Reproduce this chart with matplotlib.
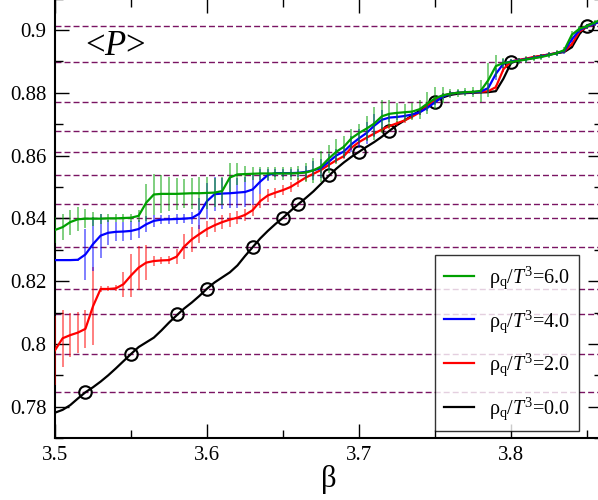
"""
plot.py
Polyakov loop <P> vs beta for several quark number densities
"""
import numpy as np
import matplotlib
matplotlib.use('Agg')
import matplotlib.pyplot as plt
from matplotlib.ticker import MultipleLocator, FuncFormatter

# Fonts - serif, Times-like, as in xmgrace output
plt.rcParams['font.family'] = ['Liberation Serif', 'DejaVu Serif']
plt.rcParams['mathtext.fontset'] = 'custom'
plt.rcParams['mathtext.rm'] = 'Liberation Serif'
plt.rcParams['mathtext.it'] = 'Liberation Serif:italic'

# ---------------------------------------------------------------- data
beta = [3.500, 3.505, 3.510, 3.515, 3.520, 3.525, 3.530, 3.535, 3.540, 3.545,
        3.550, 3.555, 3.560, 3.565, 3.570, 3.575, 3.580, 3.585, 3.590, 3.595,
        3.600, 3.605, 3.610, 3.615, 3.620, 3.625, 3.630, 3.635, 3.640, 3.645,
        3.650, 3.655, 3.660, 3.665, 3.670, 3.675, 3.680, 3.685, 3.690, 3.695,
        3.700, 3.705, 3.710, 3.715, 3.720, 3.725, 3.730, 3.735, 3.740, 3.745,
        3.750, 3.755, 3.760, 3.765, 3.770, 3.775, 3.780, 3.785, 3.790, 3.795,
        3.800, 3.805, 3.810, 3.815, 3.820, 3.825, 3.830, 3.835, 3.840, 3.845,
        3.850, 3.855, 3.860]

# rho_q/T^3 = 6.0
p_rho6 = [0.8363, 0.8372, 0.8388, 0.8397, 0.8399, 0.8399, 0.8399, 0.8400, 0.8400, 0.8401,
          0.8402, 0.8408, 0.8450, 0.8476, 0.8478, 0.8478, 0.8478, 0.8479, 0.8480, 0.8480,
          0.8481, 0.8482, 0.8487, 0.8530, 0.8540, 0.8541, 0.8542, 0.8543, 0.8543, 0.8543,
          0.8543, 0.8543, 0.8544, 0.8546, 0.8553, 0.8565, 0.8590, 0.8612, 0.8628, 0.8655,
          0.8672, 0.8686, 0.8702, 0.8725, 0.8733, 0.8736, 0.8738, 0.8740, 0.8748, 0.8766,
          0.8782, 0.8792, 0.8797, 0.8800, 0.8802, 0.8803, 0.8806, 0.8840, 0.8885, 0.8895,
          0.8898, 0.8902, 0.8906, 0.8910, 0.8914, 0.8920, 0.8926, 0.8936, 0.8985, 0.9004,
          0.9012, 0.9024, 0.9035]
e_rho6 = [0.0042, 0.0042, 0.0040, 0.0038, 0.0030, 0.0022, 0.0016, 0.0013, 0.0013, 0.0013,
          0.0013, 0.0020, 0.0060, 0.0064, 0.0060, 0.0055, 0.0050, 0.0045, 0.0050, 0.0052,
          0.0050, 0.0045, 0.0045, 0.0045, 0.0035, 0.0025, 0.0020, 0.0020, 0.0020, 0.0020,
          0.0020, 0.0020, 0.0022, 0.0030, 0.0040, 0.0048, 0.0045, 0.0040, 0.0035, 0.0030,
          0.0030, 0.0040, 0.0052, 0.0053, 0.0045, 0.0030, 0.0027, 0.0027, 0.0030, 0.0035,
          0.0035, 0.0025, 0.0015, 0.0012, 0.0012, 0.0015, 0.0035, 0.0055, 0.0035, 0.0015,
          0.0010, 0.0010, 0.0010, 0.0010, 0.0010, 0.0010, 0.0010, 0.0010, 0.0012, 0.0010,
          0.0008, 0.0008, 0.0008]

# rho_q/T^3 = 4.0
p_rho4 = [0.8267, 0.8267, 0.8267, 0.8268, 0.8285, 0.8318, 0.8345, 0.8354, 0.8357, 0.8358,
          0.8360, 0.8366, 0.8381, 0.8392, 0.8396, 0.8397, 0.8398, 0.8399, 0.8401, 0.8415,
          0.8455, 0.8477, 0.8479, 0.8480, 0.8482, 0.8484, 0.8492, 0.8517, 0.8538, 0.8544,
          0.8544, 0.8544, 0.8545, 0.8548, 0.8553, 0.8560, 0.8580, 0.8600, 0.8613, 0.8636,
          0.8655, 0.8672, 0.8695, 0.8714, 0.8721, 0.8723, 0.8726, 0.8731, 0.8738, 0.8752,
          0.8770, 0.8788, 0.8797, 0.8800, 0.8801, 0.8802, 0.8804, 0.8815, 0.8860, 0.8893,
          0.8900, 0.8903, 0.8907, 0.8911, 0.8916, 0.8921, 0.8926, 0.8933, 0.8970, 0.9000,
          0.9011, 0.9020, 0.9030]
e_rho4 = [0.0004, 0.0004, 0.0004, 0.0004, 0.0080, 0.0085, 0.0070, 0.0040, 0.0030, 0.0030,
          0.0030, 0.0030, 0.0025, 0.0018, 0.0015, 0.0015, 0.0015, 0.0015, 0.0020, 0.0050,
          0.0058, 0.0055, 0.0050, 0.0048, 0.0048, 0.0048, 0.0048, 0.0040, 0.0020, 0.0012,
          0.0012, 0.0012, 0.0012, 0.0020, 0.0030, 0.0030, 0.0025, 0.0020, 0.0020, 0.0025,
          0.0030, 0.0035, 0.0037, 0.0030, 0.0015, 0.0010, 0.0010, 0.0010, 0.0010, 0.0010,
          0.0010, 0.0010, 0.0010, 0.0008, 0.0008, 0.0008, 0.0008, 0.0015, 0.0020, 0.0015,
          0.0008, 0.0008, 0.0008, 0.0008, 0.0008, 0.0008, 0.0008, 0.0008, 0.0008, 0.0008,
          0.0008, 0.0008, 0.0008]

# rho_q/T^3 = 2.0
p_rho2 = [0.7980, 0.8018, 0.8028, 0.8036, 0.8048, 0.8120, 0.8175, 0.8175, 0.8177, 0.8190,
          0.8218, 0.8243, 0.8259, 0.8264, 0.8266, 0.8267, 0.8278, 0.8310, 0.8333, 0.8350,
          0.8366, 0.8378, 0.8388, 0.8396, 0.8402, 0.8411, 0.8426, 0.8455, 0.8473, 0.8482,
          0.8490, 0.8500, 0.8515, 0.8530, 0.8542, 0.8554, 0.8570, 0.8585, 0.8598, 0.8625,
          0.8643, 0.8657, 0.8670, 0.8683, 0.8694, 0.8703, 0.8712, 0.8724, 0.8738, 0.8758,
          0.8777, 0.8790, 0.8797, 0.8800, 0.8801, 0.8802, 0.8803, 0.8805, 0.8818, 0.8875,
          0.8900, 0.8905, 0.8909, 0.8914, 0.8918, 0.8922, 0.8927, 0.8932, 0.8955, 0.8995,
          0.9010, 0.9020, 0.9030]
e_rho2 = [0.0110, 0.0090, 0.0070, 0.0065, 0.0060, 0.0125, 0.0010, 0.0008, 0.0010, 0.0040,
          0.0070, 0.0070, 0.0055, 0.0015, 0.0012, 0.0012, 0.0025, 0.0040, 0.0040, 0.0030,
          0.0025, 0.0022, 0.0022, 0.0022, 0.0020, 0.0018, 0.0020, 0.0022, 0.0020, 0.0016,
          0.0016, 0.0016, 0.0014, 0.0010, 0.0008, 0.0008, 0.0008, 0.0008, 0.0008, 0.0008,
          0.0008, 0.0008, 0.0008, 0.0008, 0.0008, 0.0008, 0.0008, 0.0008, 0.0008, 0.0008,
          0.0008, 0.0008, 0.0008, 0.0006, 0.0006, 0.0006, 0.0006, 0.0006, 0.0008, 0.0008,
          0.0006, 0.0006, 0.0006, 0.0006, 0.0006, 0.0006, 0.0006, 0.0006, 0.0006, 0.0006,
          0.0006, 0.0006, 0.0006]

# rho_q/T^3 = 0.0 (reweighted curve)
p_rho0 = [0.7781, 0.7790, 0.7805, 0.7826, 0.7846, 0.7862, 0.7880, 0.7900, 0.7922, 0.7945,
          0.7968, 0.7990, 0.8005, 0.8020, 0.8043, 0.8068, 0.8091, 0.8113, 0.8132, 0.8153,
          0.8176, 0.8196, 0.8212, 0.8228, 0.8250, 0.8280, 0.8308, 0.8336, 0.8360, 0.8382,
          0.8402, 0.8424, 0.8445, 0.8465, 0.8486, 0.8510, 0.8535, 0.8558, 0.8578, 0.8596,
          0.8612, 0.8628, 0.8643, 0.8660, 0.8679, 0.8697, 0.8712, 0.8728, 0.8743, 0.8758,
          0.8772, 0.8785, 0.8793, 0.8797, 0.8799, 0.8800, 0.8801, 0.8802, 0.8805, 0.8845,
          0.8895, 0.8903, 0.8907, 0.8913, 0.8918, 0.8922, 0.8926, 0.8930, 0.8945, 0.8987,
          0.9015, 0.9023, 0.9030]

# simulation points at rho_q = 0
beta_sim = [3.52, 3.55, 3.58, 3.60, 3.63, 3.65, 3.66, 3.68, 3.70, 3.72, 3.75, 3.80, 3.85]
p_sim = [0.7846, 0.7969, 0.8094, 0.8176, 0.8308, 0.8400, 0.8446, 0.8537, 0.8612,
         0.8679, 0.8770, 0.8897, 0.9013]

labels = [r'ρ$_\mathrm{q}$/$T^3$=6.0', r'ρ$_\mathrm{q}$/$T^3$=4.0',
          r'ρ$_\mathrm{q}$/$T^3$=2.0', r'ρ$_\mathrm{q}$/$T^3$=0.0']

# ---------------------------------------------------------------- plot
fig = plt.figure(figsize=(5.98, 5.0), dpi=100)
ax = fig.add_axes([0.0920, 0.1238, 0.9151, 0.8790])

# dashed guide lines at the simulation points
for p in p_sim:
    ax.axhline(p, color='#7a1462', lw=1.0, dashes=(4.3, 2.2), zorder=1)

# black curve + circles
l0, = ax.plot(beta, p_rho0, color='black', lw=1.6, zorder=3)
ax.plot(beta_sim, p_sim, 'o', ms=9, mfc='none', mec='black', mew=1.5, zorder=4)

# coloured curves with error bars
series = [(p_rho2, e_rho2, 'red'), (p_rho4, e_rho4, 'blue'), (p_rho6, e_rho6, '#00a000')]
handles = {}
for i, (p, e, c) in enumerate(series):
    ax.errorbar(beta, p, yerr=e, fmt='none', ecolor=c, elinewidth=1.4,
                alpha=0.5, capsize=0, zorder=5 + i)
    h, = ax.plot(beta, p, color=c, lw=1.6, zorder=5.5 + i)
    handles[c] = h

ax.set_xlim(3.5, 3.86)
ax.set_ylim(0.77, 0.91)

ax.xaxis.set_major_locator(MultipleLocator(0.1))
ax.xaxis.set_minor_locator(MultipleLocator(0.05))
ax.yaxis.set_major_locator(MultipleLocator(0.02))
ax.yaxis.set_minor_locator(MultipleLocator(0.01))
ax.yaxis.set_major_formatter(FuncFormatter(lambda v, pos: '%g' % round(v, 3)))
ax.xaxis.set_major_formatter(FuncFormatter(lambda v, pos: '%g' % round(v, 3)))

ax.tick_params(which='both', direction='in', top=True, right=True, width=1.0,
               labelsize=15)
ax.tick_params(which='major', length=10, pad=6)
ax.tick_params(which='minor', length=5.5)
for s in ax.spines.values():
    s.set_linewidth(1.5)

ax.set_xlabel('β', fontsize=22, labelpad=0)
ax.text(3.5197, 0.892, '<$P$>', fontsize=25, ha='left', va='baseline')

leg = ax.legend([handles['#00a000'], handles['blue'], handles['red'], l0], labels,
                loc='upper left', bbox_to_anchor=(0.694, 0.4164), borderaxespad=0,
                fontsize=14.5, frameon=True, fancybox=False, handlelength=1.5,
                handletextpad=0.75, labelspacing=0.85, borderpad=0.45)
leg.get_frame().set_edgecolor('black')
leg.get_frame().set_linewidth(1.0)
leg.set_zorder(10)

fig.savefig('out.png', dpi=100)
